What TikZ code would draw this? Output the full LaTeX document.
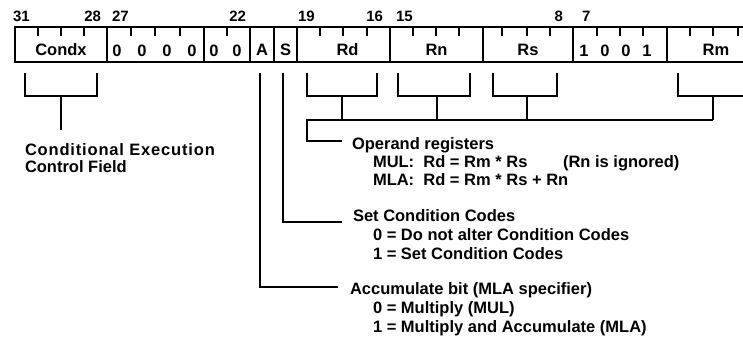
\documentclass[tikz,border=0pt]{standalone}
\usepackage{fontspec}
\setmainfont{Liberation Sans}
\begin{document}
\begin{tikzpicture}[x=1pt,y=-1pt,line width=1.6pt,
  every node/.style={inner sep=0pt,outer sep=0pt,font=\bfseries\fontsize{16.5}{18}\selectfont},
  field/.style={draw,line width=1.6pt,minimum height=35pt,anchor=north west,text height=21pt,text depth=0pt},
  bitno/.style={font=\bfseries\fontsize{15}{17}\selectfont},
  digit/.style={anchor=base},
  txt/.style={anchor=base west}]
\path[use as bounding box] (0,0) rectangle (743,338);
\clip (0,0) rectangle (743,338);
% fields
\node[field,minimum width=92pt] (fcond) at (15,27) {Condx};
\node[field,minimum width=97pt] (fzero) at (107,27) {};
\node[field,minimum width=46pt] (fzz) at (204,27) {};
\node[field,minimum width=24pt] (fA) at (250,27) {A};
\node[field,minimum width=23pt] (fS) at (274,27) {S};
\node[field,minimum width=93pt] (fRd) at (297,27) {\hspace{8pt}Rd};
\node[field,minimum width=93pt] (fRn) at (390,27) {Rn};
\node[field,minimum width=90pt] (fRs) at (483,27) {Rs};
\node[field,minimum width=94pt] (fop) at (573,27) {};
\node[field,minimum width=94pt] (fRm) at (667,27) {\hspace{4pt}Rm};
% digits
\node[digit] (d27) at (117,56) {0};
\node[digit] (d26) at (142,56) {0};
\node[digit] (d25) at (167,56) {0};
\node[digit] (d24) at (192,56) {0};
\node[digit] (d23) at (214,56) {0};
\node[digit] (d22) at (237,56) {0};
\node[digit] (d7) at (584,56) {1};
\node[digit] (d6) at (605,56) {0};
\node[digit] (d5) at (626,56) {0};
\node[digit] (d4) at (647,56) {1};
% ticks
\foreach \t in {38,61,84,131,155,180,227,320,343,367,413,436,459,502,527,550,597,620,643,690,713,738}
  \draw (\t,27) -- (\t,36);
% bit numbers
\node[bitno,anchor=base west] (n31) at (13,21) {31};
\node[bitno,anchor=base east] (n28) at (101,21) {28};
\node[bitno,anchor=base west] (n27) at (112,21) {27};
\node[bitno,anchor=base east] (n22) at (246,21) {22};
\node[bitno,anchor=base west] (n19) at (298,21) {19};
\node[bitno,anchor=base east] (n16) at (383,21) {16};
\node[bitno,anchor=base west] (n15) at (396,21) {15};
\node[bitno,anchor=base east] (n8) at (563,21) {8};
\node[bitno,anchor=base west] (n7) at (582,21) {7};
% texts
\node[txt] (cond1) at (25,155) {\addfontfeature{LetterSpace=5}Conditional Execution};
\node[txt] (cond2) at (25,172) {Control Field};
\node[txt] (op) at (352,149) {Operand registers};
\node[txt] (mul) at (373,167) {MUL:\ \ Rd = Rm * Rs};
\node[txt] (ign) at (563,167) {(Rn is ignored)};
\node[txt] (mla) at (373,185) {MLA:\ \ Rd = Rm * Rs + Rn};
\node[txt] (setcc) at (353,221) {Set Condition Codes};
\node[txt] (s0) at (373,240) {0 = Do not alter Condition Codes};
\node[txt] (s1) at (373,259) {1 = Set Condition Codes};
\node[txt] (acc) at (350,294) {Accumulate bit (MLA specifier)};
\node[txt] (a0) at (373,313) {0 = Multiply (MUL)};
\node[txt] (a1) at (373,332) {1 = Multiply and Accumulate (MLA)};
% connector coordinates
\coordinate (cstem) at (61,130);
\coordinate (aend) at (338,287);
\coordinate (send) at (342,222);
\coordinate (oend) at (342,141);
% Condx bracket
\draw (25,73) |- (97,96) -- (97,73);
\draw (61,96) -- (cstem);
% A and S
\draw (260,73) |- (aend);
\draw (283,73) |- (send);
% operand brackets
\draw (307,73) |- (377,96) -- (377,73);
\draw (398,73) |- (470,96) -- (470,73);
\draw (493,73) |- (557,96) -- (557,73);
\draw (678,73) |- (752,96) -- (752,73);
\draw (342,96) -- (342,120);
\draw (437,96) -- (437,120);
\draw (527,96) -- (527,120);
\draw (713,96) -- (713,120);
\draw (713,120) -- (307,120) |- (oend);
\end{tikzpicture}
\end{document}
